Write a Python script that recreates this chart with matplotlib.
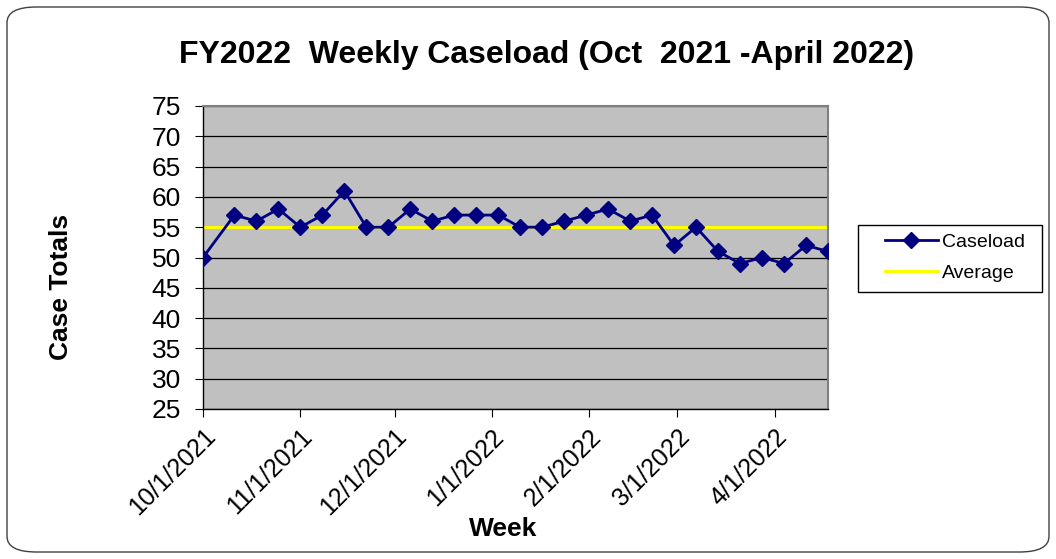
import numpy as np
import pandas as pd
import matplotlib
matplotlib.use('Agg')
import matplotlib.pyplot as plt
from matplotlib.ticker import FixedFormatter
from matplotlib.patches import FancyBboxPatch, Rectangle

plt.rcParams['font.family'] = ['Liberation Sans', 'DejaVu Sans']

# datos
semanas = ['2021-10-01', '2021-10-11', '2021-10-18', '2021-10-25', '2021-11-01',
           '2021-11-08', '2021-11-15', '2021-11-22', '2021-11-29', '2021-12-06',
           '2021-12-13', '2021-12-20', '2021-12-27', '2022-01-03', '2022-01-10',
           '2022-01-17', '2022-01-24', '2022-01-31', '2022-02-07', '2022-02-14',
           '2022-02-21', '2022-02-28', '2022-03-07', '2022-03-14', '2022-03-21',
           '2022-03-28', '2022-04-04', '2022-04-11', '2022-04-18']
caseload = [50, 57, 56, 58, 55, 57, 61, 55, 55, 58, 56, 57, 57, 57, 55,
            55, 56, 57, 58, 56, 57, 52, 55, 51, 49, 50, 49, 52, 51]
promedio = 55
ticks_x = ['2021-10-01', '2021-11-01', '2021-12-01', '2022-01-01',
           '2022-02-01', '2022-03-01', '2022-04-01']

fechas = pd.to_datetime(semanas)
ticks = pd.to_datetime(ticks_x)

fig = plt.figure(figsize=(10.56, 5.59), dpi=100)
ax = fig.add_axes([203/1056, 1-409/559, (828-203)/1056, (409-106)/559])

# marco redondeado del grafico
marco = FancyBboxPatch((7/1056, 7/559), 1042/1056, 545/559,
                       boxstyle='round,pad=0,rounding_size=0.028',
                       transform=fig.transFigure, facecolor='none',
                       edgecolor='#404040', linewidth=1.0)
fig.patches.append(marco)

ax.set_facecolor('#C0C0C0')
l1, = ax.plot(fechas, caseload, color='#000080', linewidth=2, marker='D',
              markersize=8, label='Caseload', zorder=3)
l2, = ax.plot([fechas[0], fechas[-1]], [promedio, promedio], color='#FFFF00',
              linewidth=2.2, label='Average', zorder=2)

ax.set_xlim(fechas[0], fechas[-1])
ax.set_ylim(25, 75)
ax.set_yticks(np.arange(25, 76, 5))
ax.yaxis.grid(True, color='black', linewidth=0.9)
ax.set_axisbelow(True)

ax.set_xticks(ticks)
ax.xaxis.set_major_formatter(FixedFormatter([f'{d.month}/{d.day}/{d.year}' for d in ticks]))
plt.setp(ax.get_xticklabels(), rotation=45, ha='right', rotation_mode='anchor')
ax.tick_params(axis='both', labelsize=18, direction='out', length=6, color='black')
ax.tick_params(axis='y', labelsize=19, pad=10)
ax.tick_params(axis='x', pad=5)

for lado in ['top', 'right']:
    ax.spines[lado].set_color('#808080')
    ax.spines[lado].set_linewidth(1.5)
for lado in ['left', 'bottom']:
    ax.spines[lado].set_color('black')
    ax.spines[lado].set_linewidth(1.0)

fig.text(547/1056, 1-55/559, 'FY2022  Weekly Caseload (Oct  2021 -April 2022)',
         ha='center', va='center', fontsize=23, fontweight='bold')
fig.text(61/1056, 1-287/559, 'Case Totals', ha='center', va='center',
         rotation=90, fontsize=19, fontweight='bold')
fig.text(503/1056, 1-529/559, 'Week', ha='center', va='center',
         fontsize=19, fontweight='bold')

# leyenda: marco aparte para controlar los margenes
caja = Rectangle((858/1056, 1-292/559), 184/1056, 67/559,
                 transform=fig.transFigure, facecolor='white',
                 edgecolor='black', linewidth=1.0)
fig.patches.append(caja)
leg = fig.legend(handles=[l1, l2], loc='upper left',
                 bbox_to_anchor=(885/1056, 1-233/559), borderaxespad=0,
                 borderpad=0, fontsize=14, frameon=False,
                 handlelength=2.7, labelspacing=0.7, handletextpad=0.25)

plt.savefig('out.png', dpi=100)
